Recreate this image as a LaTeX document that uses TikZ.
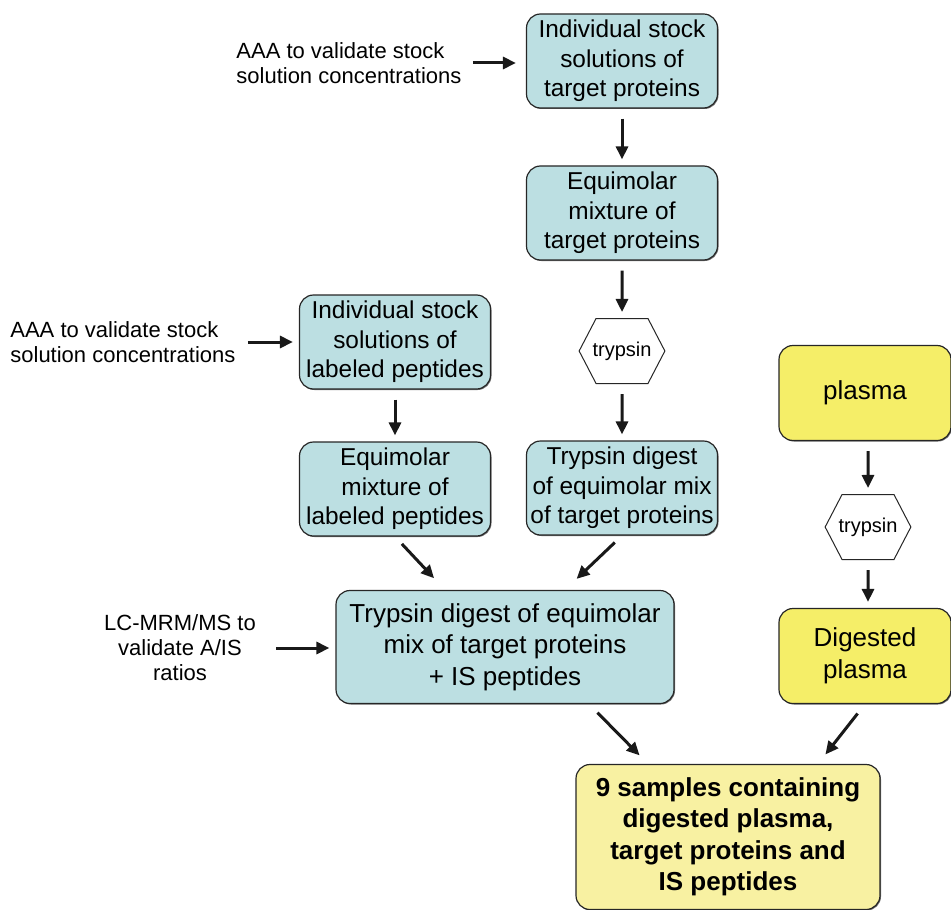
\documentclass[tikz,border=0pt]{standalone}
\usepackage{fontspec}
\setmainfont{Liberation Sans}
\usetikzlibrary{arrows.meta, shapes.symbols, shadows}
\definecolor{tealbox}{RGB}{188,223,226}
\definecolor{plasmabox}{RGB}{245,238,104}
\definecolor{samplebox}{RGB}{248,241,162}

\begin{document}
\begin{tikzpicture}[x=0.5pt, y=-0.5pt,
      box/.style = {draw=black!85, line width=0.6pt, rounded corners=7pt, align=center,
                    inner sep=0pt, drop shadow={shadow xshift=0.5pt, shadow yshift=-0.5pt,
                    fill=black!55, opacity=1}},
      TB/.style  = {box, fill=tealbox, minimum width=95.5pt, minimum height=47pt,
                    font=\fontsize{12.2}{14.75}\selectfont},
      YB/.style  = {box, fill=plasmabox, minimum width=86pt, minimum height=47.5pt,
                    font=\fontsize{13}{15.75}\selectfont},
      HX/.style  = {signal, signal to=east and west, signal pointer angle=125,
                    draw=black!85, fill=white, line width=0.5pt, inner ysep=0pt,
                    inner xsep=-1.75pt, minimum height=32.5pt,
                    font=\fontsize{10}{12}\selectfont},
      note/.style = {inner sep=0pt, font=\fontsize{11}{12.5}\selectfont},
      arr/.style = {-{Triangle[length=6.5pt, width=6pt]}, line width=1.5pt, black!90,
                    shorten <=5pt, shorten >=3pt} ]

\useasboundingbox (0,0) rectangle (951,909);

% target protein branch
\node[TB] (stockP) at (622,61)  {Individual stock\\solutions of\\target proteins};
\node[TB] (mixP)   at (622,213) {Equimolar\\mixture of\\target proteins};
\node[HX] (tryP)   at (622,351) {trypsin};
\node[TB] (digP)   at (622,488) {Trypsin digest\\of equimolar mix\\of target proteins};

% labeled peptide branch
\node[TB] (stockL) at (395,342) {Individual stock\\solutions of\\labeled peptides};
\node[TB] (mixL)   at (395,489) {Equimolar\\mixture of\\labeled peptides};

% combined
\node[TB, minimum width=169pt, minimum height=56.5pt, font=\fontsize{13}{15.75}\selectfont]
     (digIS) at (505,647) {Trypsin digest of equimolar\\mix of target proteins\\+ IS peptides};

% plasma branch
\node[YB] (plasma) at (865,393) {plasma};
\node[HX] (tryPl)  at (868,527) {trypsin};
\node[YB] (digPl)  at (865,656) {Digested\\plasma};

\node[box, fill=samplebox, minimum width=152pt, minimum height=72.5pt,
      font=\bfseries\fontsize{13}{15.75}\selectfont]
     (samples) at (728,837) {9 samples containing\\digested plasma,\\target proteins and\\IS peptides};

% side notes
\node[note, align=left, anchor=west]  (aaaP) at (236,63)  {AAA to validate stock\\solution concentrations};
\node[note, align=left, anchor=west]  (aaaL) at (10,342)  {AAA to validate stock\\solution concentrations};
\node[note, align=center]             (lcms) at (180,648) {LC-MRM/MS to\\validate A/IS\\ratios};

% arrows
\draw[arr, shorten <=5.5pt, shorten >=5pt] (aaaP.east) -- (aaaP.east -| stockP.west);
\draw[arr, shorten <=6pt] (aaaL.east) -- (aaaL.east -| stockL.west);
\draw[arr, shorten <=10pt] (lcms.east) -- (lcms.east -| digIS.west);
\draw[arr] (stockP) -- (mixP);
\draw[arr] (mixP) -- (tryP);
\draw[arr] (tryP) -- (digP);
\draw[arr] (stockL) -- (mixL);
\draw[arr] (plasma.south -| tryPl) -- (tryPl);
\draw[arr] (tryPl) -- (tryPl |- digPl.north);
\draw[arr, shorten >=8pt] (mixL.south) -- ([xshift=-30pt]digIS.north);
\draw[arr, shorten >=8pt] (digP.south) -- ([xshift=30pt]digIS.north);
\draw[arr, shorten <=6pt, shorten >=6pt] ([xshift=42pt]digIS.south) -- ([xshift=-40pt]samples.north);
\draw[arr, shorten <=6pt, shorten >=6pt] (digPl.south) -- ([xshift=45pt]samples.north);
\end{tikzpicture}
\end{document}
